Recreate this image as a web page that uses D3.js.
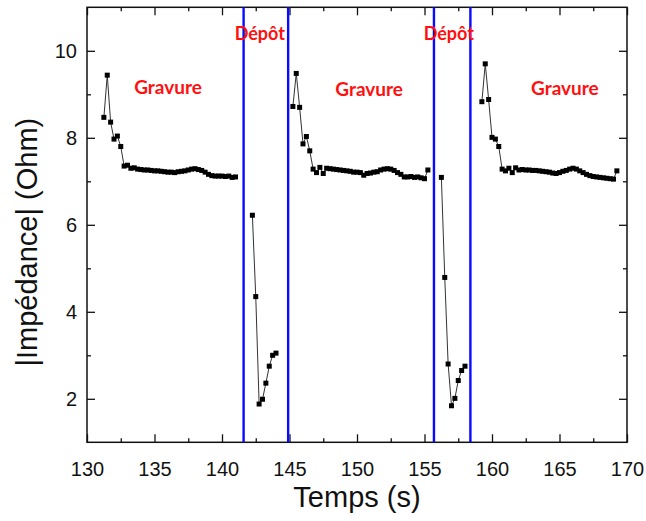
<!DOCTYPE html>
<html>
<head>
	<meta charset="utf-8">
	<title></title>
	<script src="https://d3js.org/d3.v7.min.js"></script>
	<style>
		body{ margin:0; background:#fff; }
		.axis text{ font-family: "Liberation Sans", Arial, sans-serif; font-size:20px; fill:#111; }
		.axis path{ display:none; }
		.axis line{ stroke:#111; stroke-width:1.3px; }
		.title{ font-family: "Liberation Sans", Arial, sans-serif; font-size:29px; fill:#111; }
		.note{ font-family: Lato, "Open Sans", sans-serif; font-weight:bold; fill:#ff1010; }
	</style>
</head>
<body>
	<svg width='646' height='521'></svg>
</body>
<script>
	// measured series, one per phase
	var t1 = [131.25,131.5,131.75,132,132.25,132.5,132.75,133,133.25,133.5,133.75,134,134.25,134.5,134.75,135,135.25,135.5,135.75,136,136.25,136.5,136.75,137,137.25,137.5,137.75,138,138.25,138.5,138.75,139,139.25,139.5,139.75,140,140.25,140.5,140.75,141];
	var z1 = [8.47,9.44,8.36,7.97,8.04,7.80,7.35,7.37,7.30,7.31,7.28,7.27,7.26,7.26,7.25,7.24,7.24,7.23,7.22,7.21,7.21,7.20,7.22,7.23,7.24,7.26,7.28,7.29,7.27,7.25,7.21,7.16,7.13,7.12,7.12,7.12,7.11,7.12,7.09,7.10];

	var t2 = [142.25,142.5,142.75,143,143.25,143.5,143.75,144];
	var z2 = [6.22,4.35,1.88,1.99,2.36,2.75,3.00,3.05];

	var t3 = [145.25,145.5,145.75,146,146.25,146.5,146.75,147,147.25,147.5,147.75,148,148.25,148.5,148.75,149,149.25,149.5,149.75,150,150.25,150.5,150.75,151,151.25,151.5,151.75,152,152.25,152.5,152.75,153,153.25,153.5,153.75,154,154.25,154.5,154.75,155,155.25];
	var z3 = [8.72,9.48,8.70,7.86,8.03,7.70,7.28,7.20,7.32,7.18,7.30,7.29,7.28,7.27,7.26,7.25,7.24,7.23,7.21,7.21,7.20,7.14,7.18,7.19,7.21,7.22,7.26,7.28,7.29,7.28,7.25,7.20,7.16,7.10,7.10,7.11,7.09,7.10,7.08,7.06,7.26];

	var t4 = [156.25,156.5,156.75,157,157.25,157.5,157.75,158];
	var z4 = [7.09,4.79,2.80,1.84,2.01,2.42,2.65,2.75];

	var t5 = [159.25,159.5,159.75,160,160.25,160.5,160.75,161,161.25,161.5,161.75,162,162.25,162.5,162.75,163,163.25,163.5,163.75,164,164.25,164.5,164.75,165,165.25,165.5,165.75,166,166.25,166.5,166.75,167,167.25,167.5,167.75,168,168.25,168.5,168.75,169,169.25];
	var z5 = [8.83,9.70,8.88,8.01,7.97,7.80,7.28,7.24,7.30,7.20,7.31,7.26,7.27,7.26,7.26,7.25,7.25,7.24,7.23,7.22,7.21,7.19,7.18,7.20,7.23,7.25,7.28,7.30,7.28,7.24,7.20,7.16,7.13,7.11,7.10,7.09,7.08,7.07,7.06,7.05,7.24];

	// phase boundaries (s)
	var bounds = [141.6, 144.9, 155.7, 158.4];

	var xTicks = [130,135,140,145,150,155,160,165,170];
	var xMinor = [132.5,137.5,142.5,147.5,152.5,157.5,162.5,167.5];
	var yTicks = [2,4,6,8,10];
	var yMinor = [3,5,7,9];

	// annotations: text, time, impedance
	var notes = [
		['Gravure', 136.0, 9.0, 19],
		['Gravure', 150.9, 8.95, 19],
		['Gravure', 165.4, 8.98, 19],
		['Dépôt', 142.8, 10.25, 18],
		['Dépôt', 156.8, 10.25, 18]
	];

	var svg = d3.select('svg');
	var x = d3.scaleLinear().domain([130, 170]).range([87, 627]);
	var y = d3.scaleLinear().domain([1, 11]).range([442.3, 7.3]);

	// ticks, all pointing inward
	svg.append('g').attr('class','axis').attr('transform','translate(0,442.3)')
		.call(d3.axisBottom(x).tickValues(xTicks).tickSize(-8).tickPadding(20).tickFormat(d3.format('d')));
	svg.append('g').attr('class','axis').attr('transform','translate(0,442.3)')
		.call(d3.axisBottom(x).tickValues(xMinor).tickSize(-4).tickFormat(''));
	svg.append('g').attr('class','axis').attr('transform','translate(0,7.3)')
		.call(d3.axisTop(x).tickValues(xTicks).tickSize(-8).tickFormat(''));
	svg.append('g').attr('class','axis').attr('transform','translate(0,7.3)')
		.call(d3.axisTop(x).tickValues(xMinor).tickSize(-4).tickFormat(''));
	svg.append('g').attr('class','axis').attr('transform','translate(87,0)')
		.call(d3.axisLeft(y).tickValues(yTicks).tickSize(-8).tickPadding(10).tickFormat(d3.format('d')));
	svg.append('g').attr('class','axis').attr('transform','translate(87,0)')
		.call(d3.axisLeft(y).tickValues(yMinor).tickSize(-4).tickFormat(''));
	svg.append('g').attr('class','axis').attr('transform','translate(627,0)')
		.call(d3.axisRight(y).tickValues(yTicks).tickSize(-8).tickFormat(''));
	svg.append('g').attr('class','axis').attr('transform','translate(627,0)')
		.call(d3.axisRight(y).tickValues(yMinor).tickSize(-4).tickFormat(''));

	svg.append('rect')
		.attr('x', x(130)).attr('y', y(11))
		.attr('width', x(170) - x(130)).attr('height', y(1) - y(11))
		.attr('fill','none').attr('stroke','#111').attr('stroke-width',1.5);

	// series
	var line = d3.line().x(function(d){ return x(d[0]); }).y(function(d){ return y(d[1]); });
	[[t1,z1],[t2,z2],[t3,z3],[t4,z4],[t5,z5]].forEach(function(s){
		var pts = d3.zip(s[0], s[1]);
		svg.append('path').datum(pts)
			.attr('d', line).attr('fill','none').attr('stroke','#333').attr('stroke-width',1);
		svg.append('g').selectAll('rect').data(pts).enter().append('rect')
			.attr('x', function(d){ return x(d[0]) - 2.5; })
			.attr('y', function(d){ return y(d[1]) - 2.5; })
			.attr('width',5).attr('height',5).attr('fill','#000');
	});

	svg.append('g').selectAll('line').data(bounds).enter().append('line')
		.attr('x1', function(d){ return x(d); }).attr('x2', function(d){ return x(d); })
		.attr('y1', y(11)).attr('y2', y(1))
		.attr('stroke','#0a0aff').attr('stroke-width',2.4);

	svg.append('g').selectAll('text').data(notes).enter().append('text')
		.attr('class','note')
		.attr('x', function(d){ return x(d[1]); })
		.attr('y', function(d){ return y(d[2]); })
		.attr('text-anchor','middle')
		.style('font-size', function(d){ return d[3] + 'px'; })
		.text(function(d){ return d[0]; });

	svg.append('text').attr('class','title')
		.attr('x', x(150)).attr('y', 507).attr('text-anchor','middle')
		.text('Temps (s)');
	svg.append('text').attr('class','title')
		.attr('transform','translate(37,' + y(5.6) + ') rotate(-90)').attr('text-anchor','middle')
		.text('|Impédance| (Ohm)');
</script>
</html>
